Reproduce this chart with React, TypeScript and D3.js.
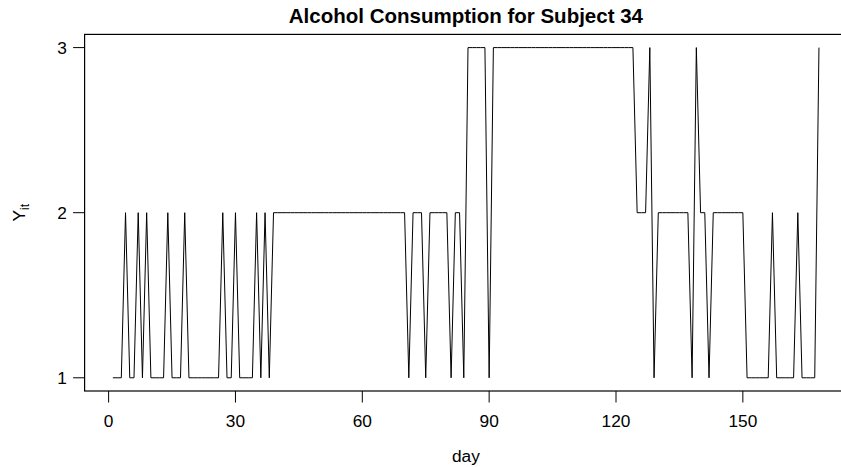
import React from "react";
import * as d3 from "d3";

const title = "Alcohol Consumption for Subject 34";
const xLabel = "day";
const yLabelMain = "Y";
const yLabelSub = "it";

// Daily values Y_it for days 1..168
const values: number[] = [
  1, 1, 1, 2, 1, 1, 2, 1, 2, 1,
  1, 1, 1, 2, 1, 1, 1, 2, 1, 1,
  1, 1, 1, 1, 1, 1, 2, 1, 1, 2,
  1, 1, 1, 1, 2, 1, 2, 1, 2, 2,
  2, 2, 2, 2, 2, 2, 2, 2, 2, 2,
  2, 2, 2, 2, 2, 2, 2, 2, 2, 2,
  2, 2, 2, 2, 2, 2, 2, 2, 2, 2,
  1, 2, 2, 2, 1, 2, 2, 2, 2, 2,
  1, 2, 2, 1, 3, 3, 3, 3, 3, 1,
  3, 3, 3, 3, 3, 3, 3, 3, 3, 3,
  3, 3, 3, 3, 3, 3, 3, 3, 3, 3,
  3, 3, 3, 3, 3, 3, 3, 3, 3, 3,
  3, 3, 3, 3, 2, 2, 2, 3, 1, 2,
  2, 2, 2, 2, 2, 2, 2, 1, 3, 2,
  2, 1, 2, 2, 2, 2, 2, 2, 2, 2,
  1, 1, 1, 1, 1, 1, 2, 1, 1, 1,
  1, 1, 2, 1, 1, 1, 1, 3,
];
const days: number[] = values.map((_, i) => i + 1);

const xTicks = [0, 30, 60, 90, 120, 150];
const yTicks = [1, 2, 3];

const W = 841;
const H = 467;
const FONT = "'Liberation Sans', Arial, Helvetica, sans-serif";

export default function App() {
  const xMin = d3.min(days)!;
  const xMax = d3.max(days)!;
  const xPad = (xMax - xMin) * 0.04;
  const yMin = d3.min(values)!;
  const yMax = d3.max(values)!;
  const yPad = (yMax - yMin) * 0.04;

  const plotLeft = 84.6;
  const plotRight = 847.2;
  const plotTop = 34.4;
  const plotBottom = 391;

  const x = d3
    .scaleLinear()
    .domain([xMin - xPad, xMax + xPad])
    .range([plotLeft, plotRight]);
  const y = d3
    .scaleLinear()
    .domain([yMin - yPad, yMax + yPad])
    .range([plotBottom, plotTop]);

  const line = d3
    .line<number>()
    .x((_, i) => x(days[i]))
    .y((v) => y(v));

  const tickLen = 11.5;
  const fs = 17.3;

  return (
    <svg
      width={W}
      height={H}
      style={{ position: "absolute", left: 0, top: 0, background: "#fff" }}
      fontFamily={FONT}
    >
      <rect x={0} y={0} width={W} height={H} fill="#fff" />
      <text
        x={(plotLeft + plotRight) / 2}
        y={22.5}
        textAnchor="middle"
        fontSize={20.5}
        fontWeight="bold"
        fill="#000"
      >
        {title}
      </text>
      <path
        d={line(values) || ""}
        fill="none"
        stroke="#000"
        strokeWidth={1}
        strokeLinejoin="round"
      />
      <rect
        x={plotLeft}
        y={plotTop}
        width={plotRight - plotLeft}
        height={plotBottom - plotTop}
        fill="none"
        stroke="#000"
        strokeWidth={1.2}
      />
      {xTicks.map((t) => (
        <g key={"x" + t}>
          <line
            x1={x(t)}
            x2={x(t)}
            y1={plotBottom}
            y2={plotBottom + tickLen}
            stroke="#000"
            strokeWidth={1}
          />
          <text x={x(t)} y={427.3} textAnchor="middle" fontSize={fs} fill="#000">
            {t}
          </text>
        </g>
      ))}
      {yTicks.map((t) => (
        <g key={"y" + t}>
          <line
            x1={plotLeft - tickLen}
            x2={plotLeft}
            y1={y(t)}
            y2={y(t)}
            stroke="#000"
            strokeWidth={1}
          />
          <text
            x={66.8}
            y={y(t) + 6.2}
            textAnchor="end"
            fontSize={fs}
            fill="#000"
          >
            {t}
          </text>
        </g>
      ))}
      <text
        x={(plotLeft + plotRight) / 2}
        y={462}
        textAnchor="middle"
        fontSize={fs}
        fill="#000"
      >
        {xLabel}
      </text>
      <text
        transform={`translate(25, ${(plotTop + plotBottom) / 2}) rotate(-90)`}
        textAnchor="middle"
        fontSize={fs}
        fill="#000"
      >
        <tspan>{yLabelMain}</tspan>
        <tspan fontSize={fs * 0.7} dy={4}>
          {yLabelSub}
        </tspan>
      </text>
    </svg>
  );
}
